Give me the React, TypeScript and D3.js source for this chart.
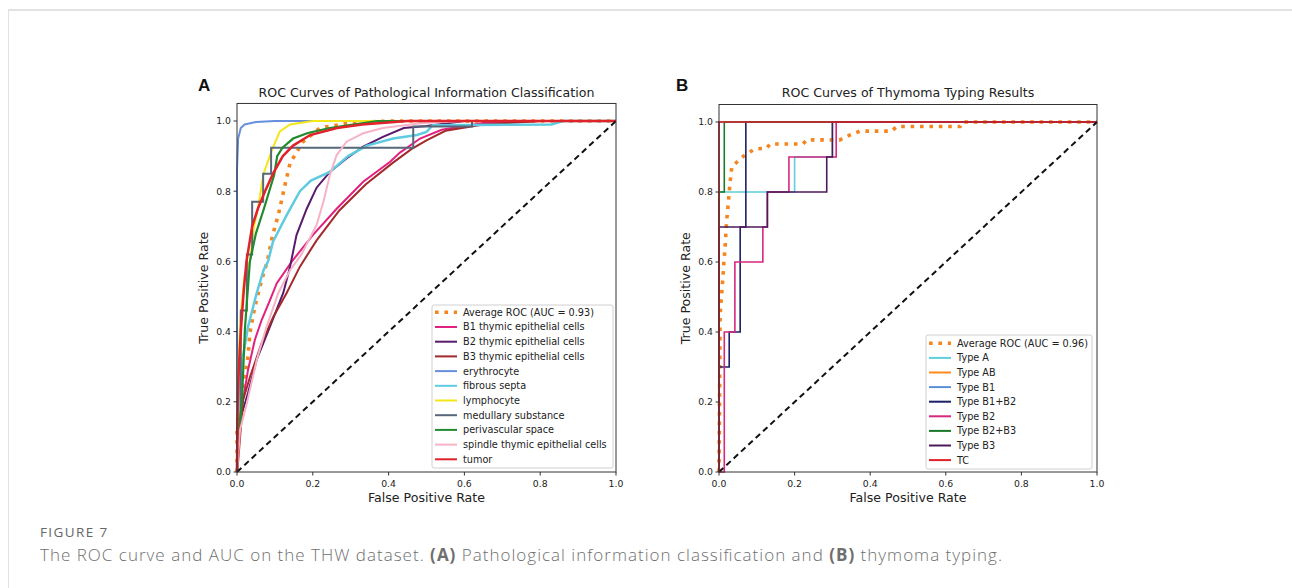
import * as d3 from "d3";

type Pt = [number, number];

// ---------- data (fpr, tpr) ----------
const tickValues = [0, 0.2, 0.4, 0.6, 0.8, 1.0];

// panel A: pathological information classification
const avgRocA: Pt[] = [[0, 0], [0, 0.12], [0.016, 0.225], [0.021, 0.27], [0.029, 0.33], [0.034, 0.396], [0.047, 0.471], [0.065, 0.547], [0.08, 0.6], [0.094, 0.675], [0.109, 0.732], [0.125, 0.81], [0.14, 0.88], [0.174, 0.941], [0.219, 0.98], [0.3, 0.995], [0.4, 1], [1, 1]];
const b1Cells: Pt[] = [[0, 0], [0.008, 0.16], [0.016, 0.205], [0.029, 0.29], [0.047, 0.376], [0.065, 0.433], [0.087, 0.49], [0.105, 0.538], [0.145, 0.6], [0.2, 0.675], [0.263, 0.75], [0.333, 0.827], [0.404, 0.884], [0.43, 0.91], [0.483, 0.95], [0.54, 0.975], [0.65, 0.994], [0.8, 1], [1, 1]];
const b2Cells: Pt[] = [[0, 0], [0.008, 0.148], [0.029, 0.225], [0.052, 0.32], [0.087, 0.414], [0.122, 0.51], [0.14, 0.585], [0.157, 0.675], [0.184, 0.75], [0.21, 0.81], [0.245, 0.855], [0.289, 0.893], [0.333, 0.927], [0.385, 0.955], [0.44, 0.98], [0.5, 0.986], [0.6, 1], [1, 1]];
const b3Cells: Pt[] = [[0, 0], [0.003, 0.03], [0.016, 0.205], [0.034, 0.27], [0.065, 0.367], [0.095, 0.44], [0.131, 0.51], [0.166, 0.585], [0.21, 0.66], [0.27, 0.745], [0.34, 0.82], [0.41, 0.88], [0.46, 0.92], [0.5, 0.945], [0.55, 0.972], [0.65, 0.99], [0.8, 1], [1, 1]];
const erythrocyte: Pt[] = [[0, 0], [0, 0.86], [0.003, 0.95], [0.01, 0.98], [0.02, 0.99], [0.05, 0.997], [0.1, 1], [1, 1]];
const fibrousSepta: Pt[] = [[0, 0], [0.003, 0.15], [0.011, 0.29], [0.016, 0.33], [0.029, 0.413], [0.052, 0.51], [0.07, 0.575], [0.082, 0.6], [0.095, 0.656], [0.131, 0.732], [0.166, 0.8], [0.195, 0.83], [0.245, 0.855], [0.293, 0.9], [0.343, 0.93], [0.412, 0.95], [0.475, 0.96], [0.5, 0.969], [0.517, 0.988], [0.83, 0.99], [0.86, 1], [1, 1]];
const lymphocyte: Pt[] = [[0, 0], [0.003, 0.3], [0.01, 0.45], [0.02, 0.56], [0.034, 0.6], [0.045, 0.7], [0.055, 0.75], [0.07, 0.85], [0.08, 0.88], [0.092, 0.917], [0.113, 0.97], [0.14, 0.99], [0.2, 1], [1, 1]];
const medullary: Pt[] = [[0, 0], [0, 0.15], [0.01, 0.15], [0.01, 0.46], [0.026, 0.46], [0.026, 0.62], [0.04, 0.62], [0.04, 0.77], [0.069, 0.77], [0.069, 0.85], [0.09, 0.85], [0.09, 0.924], [0.465, 0.924], [0.465, 0.984], [0.62, 0.984], [0.62, 1], [1, 1]];
const perivascular: Pt[] = [[0, 0], [0.003, 0.1], [0.013, 0.2], [0.021, 0.41], [0.034, 0.6], [0.05, 0.68], [0.071, 0.75], [0.085, 0.8], [0.098, 0.846], [0.106, 0.9], [0.12, 0.924], [0.148, 0.95], [0.187, 0.966], [0.245, 0.98], [0.306, 0.99], [0.37, 1], [1, 1]];
const spindle: Pt[] = [[0, 0], [0.008, 0.12], [0.026, 0.196], [0.052, 0.319], [0.078, 0.414], [0.109, 0.51], [0.14, 0.575], [0.17, 0.62], [0.21, 0.704], [0.228, 0.77], [0.245, 0.846], [0.263, 0.903], [0.289, 0.941], [0.333, 0.965], [0.385, 0.98], [0.49, 0.994], [0.6, 1], [1, 1]];
const tumor: Pt[] = [[0, 0], [0.002, 0.2], [0.005, 0.3], [0.01, 0.4], [0.018, 0.52], [0.025, 0.6], [0.04, 0.7], [0.055, 0.75], [0.074, 0.8], [0.095, 0.85], [0.121, 0.9], [0.148, 0.93], [0.193, 0.96], [0.264, 0.98], [0.33, 0.99], [0.45, 1], [1, 1]];

const labelsA = ["Average ROC (AUC = 0.93)", "B1 thymic epithelial cells", "B2 thymic epithelial cells", "B3 thymic epithelial cells", "erythrocyte", "fibrous septa", "lymphocyte", "medullary substance", "perivascular space", "spindle thymic epithelial cells", "tumor"];
const curvesA = [avgRocA, b1Cells, b2Cells, b3Cells, erythrocyte, fibrousSepta, lymphocyte, medullary, perivascular, spindle, tumor];

// panel B: thymoma typing
const avgRocB: Pt[] = [[0, 0], [0.003, 0.45], [0.01, 0.55], [0.013, 0.6], [0.016, 0.64], [0.02, 0.715], [0.025, 0.772], [0.029, 0.825], [0.034, 0.872], [0.051, 0.889], [0.069, 0.906], [0.095, 0.923], [0.126, 0.925], [0.135, 0.937], [0.222, 0.937], [0.232, 0.949], [0.32, 0.949], [0.347, 0.963], [0.373, 0.974], [0.457, 0.974], [0.47, 0.987], [0.638, 0.987], [0.645, 1], [1, 1]];
const typeA: Pt[] = [[0, 0], [0, 0.8], [0.2, 0.8], [0.2, 0.9], [0.3, 0.9], [0.3, 1], [1, 1]];
const typeAB: Pt[] = [[0, 0], [0, 1], [1, 1]];
const typeB1: Pt[] = [[0, 0], [0, 1], [1, 1]];
const typeB1B2: Pt[] = [[0, 0], [0, 0.3], [0.027, 0.3], [0.027, 0.4], [0.056, 0.4], [0.056, 0.7], [0.071, 0.7], [0.071, 1], [1, 1]];
const typeB2: Pt[] = [[0, 0], [0.014, 0], [0.014, 0.4], [0.042, 0.4], [0.042, 0.6], [0.116, 0.6], [0.116, 0.7], [0.128, 0.7], [0.128, 0.8], [0.185, 0.8], [0.185, 0.9], [0.31, 0.9], [0.31, 1], [1, 1]];
const typeB2B3: Pt[] = [[0, 0], [0, 0.8], [0.014, 0.8], [0.014, 1], [1, 1]];
const typeB3: Pt[] = [[0, 0], [0, 0.7], [0.128, 0.7], [0.128, 0.8], [0.285, 0.8], [0.285, 0.9], [0.3, 0.9], [0.3, 1], [1, 1]];
const typeTC: Pt[] = [[0, 0], [0, 1], [1, 1]];

const labelsB = ["Average ROC (AUC = 0.96)", "Type A", "Type AB", "Type B1", "Type B1+B2", "Type B2", "Type B2+B3", "Type B3", "TC"];
const curvesB = [avgRocB, typeA, typeAB, typeB1, typeB1B2, typeB2, typeB2B3, typeB3, typeTC];

// ---------- styles ----------
const colorsA = ["#f5861f", "#e2217f", "#5a1a6c", "#a3292c", "#6690dc", "#5ecbe0", "#f3e619", "#56687a", "#218a2e", "#f6b3c6", "#e0222a"];
const widthsA = [3.6, 2, 2, 2, 2, 2.5, 2, 2, 2.2, 2, 2.5];
const colorsB = ["#f5861f", "#5ecfdc", "#ff8a1e", "#5b8fd8", "#1e1f66", "#d6287d", "#1a7a2a", "#4b1a5a", "#e02028"];
const widthsB = [3.6, 1.6, 1.6, 1.6, 1.6, 1.6, 1.6, 1.6, 1.6];

const FONT = "DejaVu Sans, sans-serif";

type PanelProps = {
  letter: string; letterX: number;
  title: string;
  x0: number; x1: number; yZero: number; yOne: number;
  curves: Pt[][]; labels: string[]; colors: string[]; widths: number[];
  legend: { x: number; y: number; w: number; h: number; first: number; step: number };
};

function Panel(p: PanelProps) {
  const x = d3.scaleLinear().domain([0, 1]).range([p.x0, p.x1]);
  const y = d3.scaleLinear().domain([0, 1]).range([p.yZero, p.yOne]);
  const top = y(1.05);
  const line = d3.line<Pt>().x(d => x(d[0])).y(d => y(d[1]));
  const cx = (p.x0 + p.x1) / 2;
  const cy = (top + p.yZero) / 2;
  return (
    <g fontFamily={FONT}>
      <text x={p.letterX} y={91} fontFamily="Liberation Sans, Arial, sans-serif" fontWeight="bold" fontSize={17} fill="#111">{p.letter}</text>
      <text x={cx} y={97} textAnchor="middle" fontSize={12.6} fill="#222">{p.title}</text>
      <defs>
        <clipPath id={"clip" + p.letter}>
          <rect x={p.x0 - 2} y={top} width={p.x1 - p.x0 + 4} height={p.yZero - top + 2} />
        </clipPath>
      </defs>
      <g clipPath={`url(#clip${p.letter})`}>
        {p.curves.map((c, i) => (
          <path key={i} d={line(c) ?? ""} fill="none" stroke={p.colors[i]} strokeWidth={p.widths[i]}
            strokeDasharray={i === 0 ? "3.6 5.8" : undefined} />
        ))}
        <path d={line([[0, 0], [1, 1]]) ?? ""} fill="none" stroke="#111" strokeWidth={2} strokeDasharray="6 4" />
      </g>
      <rect x={p.x0} y={top} width={p.x1 - p.x0} height={p.yZero - top} fill="none" stroke="#333" strokeWidth={1} />
      {tickValues.map(t => (
        <g key={"x" + t}>
          <line x1={x(t)} x2={x(t)} y1={p.yZero} y2={p.yZero + 3.5} stroke="#333" />
          <text x={x(t)} y={p.yZero + 15} textAnchor="middle" fontSize={9.3} fill="#222">{t.toFixed(1)}</text>
        </g>
      ))}
      {tickValues.map(t => (
        <g key={"y" + t}>
          <line x1={p.x0 - 3.5} x2={p.x0} y1={y(t)} y2={y(t)} stroke="#333" />
          <text x={p.x0 - 6} y={y(t) + 3.3} textAnchor="end" fontSize={9.3} fill="#222">{t.toFixed(1)}</text>
        </g>
      ))}
      <text x={cx} y={p.yZero + 30} textAnchor="middle" fontSize={12.6} fill="#222">False Positive Rate</text>
      <text transform={`translate(${p.x0 - 29},${cy}) rotate(-90)`} textAnchor="middle" fontSize={12.6} fill="#222">True Positive Rate</text>
      <rect x={p.legend.x} y={p.legend.y} width={p.legend.w} height={p.legend.h} rx={2} fill="#fff" fillOpacity={0.85} stroke="#d0d0d0" />
      {p.labels.map((lab, i) => {
        const ly = p.legend.first + i * p.legend.step;
        const hx = p.legend.x + 3;
        return (
          <g key={lab}>
            <line x1={hx} x2={hx + 22} y1={ly} y2={ly} stroke={p.colors[i]} strokeWidth={i === 0 ? 3.6 : 2}
              strokeDasharray={i === 0 ? "3.6 5.8" : undefined} />
            <text x={hx + 28} y={ly + 3.4} fontSize={9.7} fill="#222">{lab}</text>
          </g>
        );
      })}
    </g>
  );
}

export default function App() {
  return (
    <svg width={1292} height={588} style={{ position: "absolute", left: 0, top: 0, background: "#fff" }}>
      <line x1={8} x2={1292} y1={10} y2={10} stroke="#e2e2e2" strokeWidth={2} />
      <line x1={8.5} x2={8.5} y1={10} y2={588} stroke="#e2e2e2" strokeWidth={1} />
      <Panel letter="A" letterX={198} title="ROC Curves of Pathological Information Classification"
        x0={237} x1={616} yZero={472} yOne={121}
        curves={curvesA} labels={labelsA} colors={colorsA} widths={widthsA}
        legend={{ x: 432, y: 305, w: 181, h: 163, first: 312.3, step: 14.7 }} />
      <Panel letter="B" letterX={676} title="ROC Curves of Thymoma Typing Results"
        x0={719} x1={1097} yZero={472} yOne={122}
        curves={curvesB} labels={labelsB} colors={colorsB} widths={widthsB}
        legend={{ x: 926, y: 335, w: 166, h: 134, first: 343.3, step: 14.6 }} />
      <text x={40} y={537} fontFamily="Open Sans, sans-serif" fontSize={13.5} fill="#666" letterSpacing={1.4}>FIGURE 7</text>
      <text x={40} y={561} fontFamily="Open Sans, sans-serif" fontWeight={300} fontSize={17} fill="#6f6f6f"
        textLength={962} lengthAdjust="spacing">
        The ROC curve and AUC on the THW dataset. <tspan fontWeight={700}>(A)</tspan> Pathological information classification and <tspan fontWeight={700}>(B)</tspan> thymoma typing.
      </text>
    </svg>
  );
}
